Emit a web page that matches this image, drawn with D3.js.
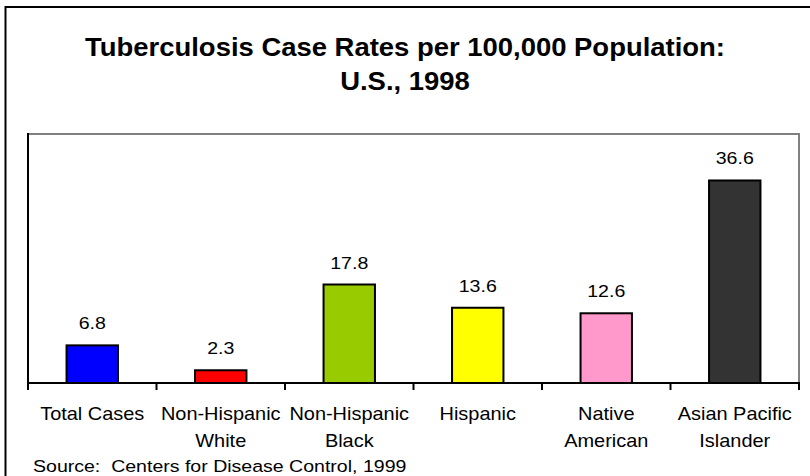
<!DOCTYPE html>
<html>
<head>
<meta charset="utf-8">
<script src="https://cdn.jsdelivr.net/npm/d3@7"></script>
<style>
  html, body { margin: 0; padding: 0; background: #fff; }
  svg { display: block; }
  text { font-family: "Liberation Sans", Arial, sans-serif; fill: #000; white-space: pre; }
</style>
</head>
<body>
<svg id="chart" width="810" height="476"></svg>
<script>
// Tuberculosis case rates per 100,000 population, U.S., 1998
const categories = [
  ["Total Cases"],
  ["Non-Hispanic", "White"],
  ["Non-Hispanic", "Black"],
  ["Hispanic"],
  ["Native", "American"],
  ["Asian Pacific", "Islander"]
];
const rates = [6.8, 2.3, 17.8, 13.6, 12.6, 36.6];
const barColors = ["#0000FF", "#FF0000", "#99CC00", "#FFFF00", "#FF99CC", "#333333"];
const titleLines = ["Tuberculosis Case Rates per 100,000 Population:", "U.S., 1998"];
const sourceNote = "Source:  Centers for Disease Control, 1999";
const yDomain = [0, 45];

const svg = d3.select("#chart");
const W = 810, H = 476;
const plot = { left: 28, right: 799, top: 134, bottom: 383 };

svg.append("rect").attr("width", W).attr("height", H).attr("fill", "#fff");

// outer frame (runs off the right and bottom edges)
svg.append("rect")
  .attr("x", 5.5).attr("y", 7)
  .attr("width", W + 10).attr("height", H + 10)
  .attr("fill", "none").attr("stroke", "#000").attr("stroke-width", 2);

// title, set slightly wide
svg.append("g").attr("transform", "translate(405,56) scale(1.056,1)")
  .append("text")
  .attr("text-anchor", "middle")
  .style("font-size", "26px").style("font-weight", "bold")
  .selectAll("tspan").data(titleLines).join("tspan")
  .attr("x", 0).attr("dy", (d, i) => i === 0 ? 0 : 34)
  .text(d => d);

const keys = categories.map((d, i) => i);
const x = d3.scaleBand().domain(keys).range([plot.left, plot.right]).paddingInner(0).paddingOuter(0);
const y = d3.scaleLinear().domain(yDomain).range([plot.bottom, plot.top]);

// plot-area border (top and right, grey)
svg.append("path")
  .attr("d", `M${plot.left},${plot.top}H${plot.right}V${plot.bottom}`)
  .attr("fill", "none").attr("stroke", "#808080").attr("stroke-width", 2);

// bars
const barW = x.bandwidth() * 0.4;
svg.append("g").selectAll("rect").data(rates).join("rect")
  .attr("x", (d, i) => x(i) + (x.bandwidth() - barW) / 2)
  .attr("y", d => y(d))
  .attr("width", barW)
  .attr("height", d => y(0) - y(d))
  .attr("fill", (d, i) => barColors[i])
  .attr("stroke", "#000").attr("stroke-width", 2);

// value labels
svg.append("g").selectAll("g").data(rates).join("g")
  .attr("transform", (d, i) => `translate(${x(i) + x.bandwidth() / 2},${y(d) - 16}) scale(1.2,1)`)
  .append("text")
  .attr("text-anchor", "middle")
  .style("font-size", "16.3px")
  .text(d => d.toFixed(1));

// y axis (line only)
svg.append("line")
  .attr("x1", plot.left).attr("x2", plot.left)
  .attr("y1", plot.top - 1).attr("y2", plot.bottom + 1)
  .attr("stroke", "#000").attr("stroke-width", 2);

// x axis with ticks between categories
const xAxis = d3.axisBottom(x).tickSize(0).tickFormat("");
const gx = svg.append("g").attr("transform", `translate(0,${plot.bottom})`).call(xAxis);
gx.select(".domain").attr("stroke", "#000").attr("stroke-width", 2)
  .attr("d", `M${plot.left - 1},0H${plot.right + 1}`);
gx.selectAll(".tick").remove();
const boundaries = keys.map(k => x(k)).concat([x(keys[keys.length - 1]) + x.bandwidth()]);
gx.selectAll("line.sep").data(boundaries).join("line")
  .attr("class", "sep")
  .attr("x1", d => d).attr("x2", d => d)
  .attr("y1", 0).attr("y2", 7)
  .attr("stroke", "#000").attr("stroke-width", 2);

// category labels
const lab = svg.append("g").selectAll("g").data(categories).join("g")
  .attr("transform", (d, i) => `translate(${x(i) + x.bandwidth() / 2},420) scale(1.05,1)`)
  .append("text")
  .attr("text-anchor", "middle")
  .style("font-size", "19px");
lab.selectAll("tspan").data(d => d).join("tspan")
  .attr("x", 0)
  .attr("dy", (d, i) => i === 0 ? 0 : 27)
  .text(d => d);

// source note
svg.append("g").attr("transform", "translate(33,472) scale(1.15,1)")
  .append("text")
  .style("font-size", "17px")
  .text(sourceNote);
</script>
</body>
</html>
